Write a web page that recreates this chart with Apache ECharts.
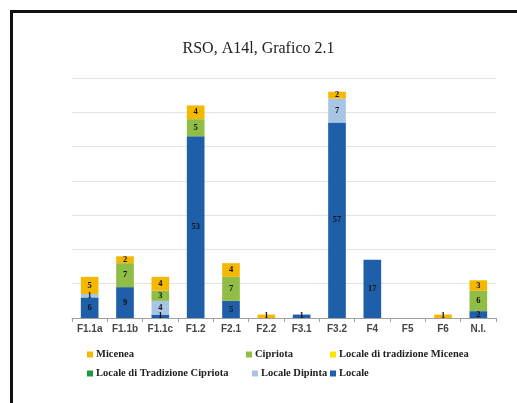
<!DOCTYPE html>
<html><head><meta charset="utf-8">
<script src="https://cdn.jsdelivr.net/npm/echarts@6/dist/echarts.min.js"></script>
<style>html,body{margin:0;padding:0;background:#fff}#c{width:517px;height:403px}</style>
</head><body><div id="c"></div>
<script>
const categories = ['F1.1a','F1.1b','F1.1c','F1.2','F2.1','F2.2','F3.1','F3.2','F4','F5','F6','N.I.'];
const locale              = [6, 9, 1, 53, 5, 0, 1, 57, 17, 0, 0, 2];
const localeDipinta       = [1, 0, 4, 0, 0, 0, 0, 7, 0, 0, 0, 0];
const localeTradCipriota  = [0, 0, 0, 0, 0, 0, 0, 0, 0, 0, 0, 0];
const cipriota            = [0, 7, 3, 5, 7, 0, 0, 0, 0, 0, 0, 6];
const localeTradMicenea   = [0, 0, 0, 0, 0, 0, 0, 0, 0, 0, 0, 0];
const micenea             = [5, 2, 4, 4, 4, 1, 0, 2, 0, 0, 1, 3];
const seriesNames = ['Locale','Locale Dipinta','Locale di Tradizione Cipriota','Cipriota','Locale di tradizione Micenea','Micenea'];
const seriesData = [locale, localeDipinta, localeTradCipriota, cipriota, localeTradMicenea, micenea];
const colors = ['#1f5fa9','#a9c5e6','#1e9a3c','#8fbd45','#ffe400','#f5b800'];

const chart = echarts.init(document.getElementById('c'));
const serif = '"Liberation Serif","DejaVu Serif",serif';
const series = seriesNames.map((n,i)=>({
  name:n, type:'bar', stack:'a', data:seriesData[i], barWidth:'50%',
  itemStyle:{color:colors[i]},
  label:{show:true, position:'inside', color:'#111', fontFamily:serif, fontWeight:'bold', fontSize:8.5,
    formatter:p=>p.value? String(p.value):''}
}));
function lg(name, left, top){
  return {data:[name], left:left, top:top, itemWidth:6, itemHeight:6, itemGap:4,
    icon:'rect', textStyle:{fontFamily:serif, fontSize:10.5, fontWeight:'bold', color:'#222', padding:[0,0,0,-2]}, padding:0};
}
chart.setOption({
  animation:false,
  title:{text:'RSO, A14l, Grafico 2.1', left:'center', top:36, textStyle:{fontFamily:serif, fontWeight:'normal', fontSize:16, color:'#222'}},
  grid:{left:72, right:21, top:78, bottom:85},
  legend:[
    lg('Micenea',87,349), lg('Cipriota',246,349), lg('Locale di tradizione Micenea',330,349),
    lg('Locale di Tradizione Cipriota',87,368), lg('Locale Dipinta',252,368), lg('Locale',330,368)
  ],
  xAxis:{type:'category', data:categories,
    axisLine:{lineStyle:{color:'#a0a0a0'}}, axisTick:{show:true, length:4, lineStyle:{color:'#a0a0a0'}},
    axisLabel:{color:'#454545', fontFamily:'"Liberation Sans",Arial,sans-serif', fontWeight:'bold', fontSize:10, margin:6}},
  yAxis:{type:'value', min:0, max:70, interval:10, axisLabel:{show:false}, axisLine:{show:false}, axisTick:{show:false},
    splitLine:{lineStyle:{color:'#e4e4e4'}}},
  graphic:[{type:'rect', shape:{x:11.5, y:11.5, width:700, height:600}, style:{fill:null, stroke:'#111', lineWidth:3}, silent:true}],
  series:series
});
</script></body></html>
